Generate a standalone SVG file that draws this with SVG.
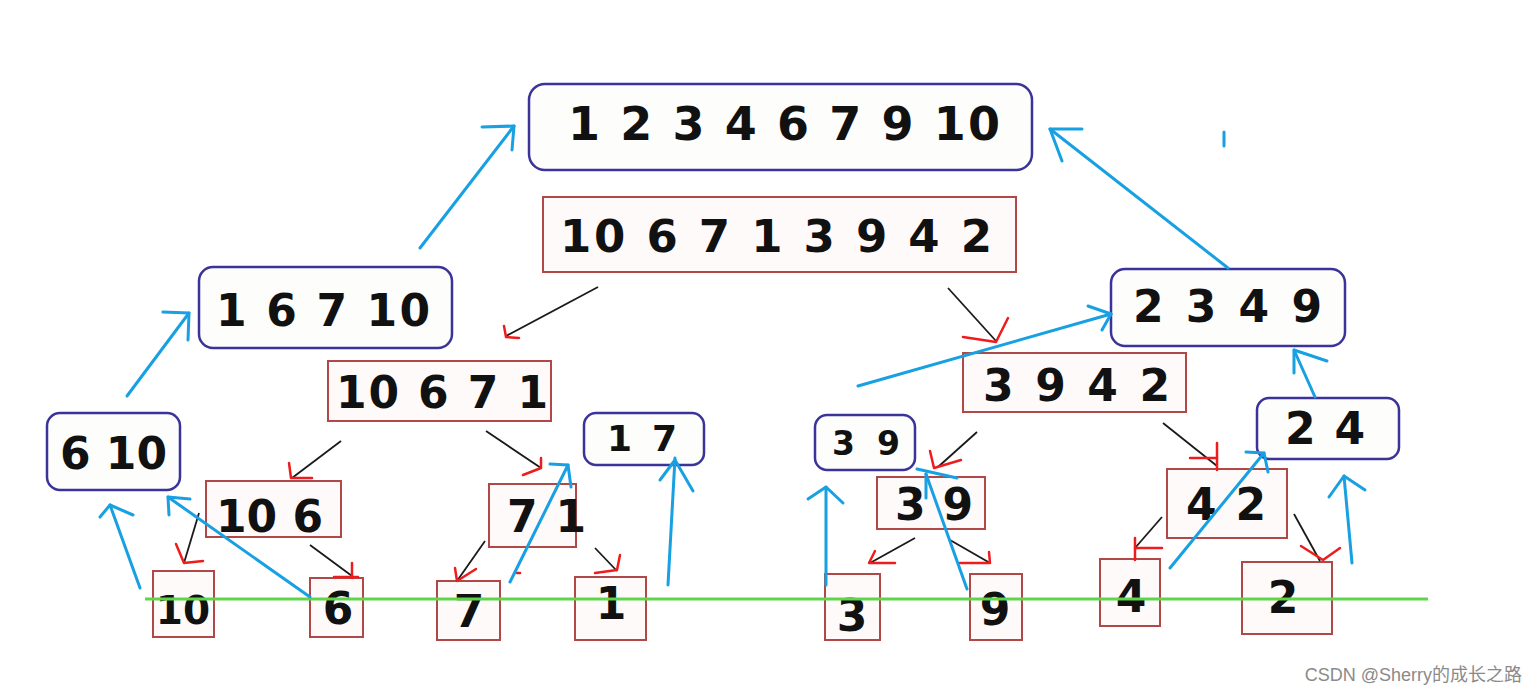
<svg xmlns="http://www.w3.org/2000/svg" width="1538" height="695" viewBox="0 0 1538 695">
<style>
.bg{fill:#ffffff}
.bb{fill:#fdfdfb;stroke:#3a3399;stroke-width:2.5}
.rb{fill:#fefafa;stroke:#b04848;stroke-width:2}
.t{font-family:"DejaVu Sans",Verdana,sans-serif;font-weight:bold;fill:#111111}
.bl{fill:none;stroke:#17a0e2;stroke-width:3;stroke-linecap:round;stroke-linejoin:round}
.k{fill:none;stroke:#1a1a1a;stroke-width:1.8}
.r{fill:none;stroke:#ee1c1c;stroke-width:2.5;stroke-linecap:round;stroke-linejoin:round}
.g{fill:none;stroke:#5ed64a;stroke-width:3}
.wm{font-family:"Liberation Sans","Noto Sans CJK SC",sans-serif;font-size:18px;fill:#8a8a8a}
</style>
<rect class="bg" x="0" y="0" width="1538" height="695"/>

<g id="n-top">
<rect class="bb" x="529" y="84" width="503" height="86" rx="16"/>
<text class="t" x="568" y="140" font-size="46" textLength="432" lengthAdjust="spacing">1 2 3 4 6 7 9 10</text>
</g>
<g id="n-root">
<rect class="rb" x="543" y="197" width="473" height="75"/>
<text class="t" x="560" y="252" font-size="45" textLength="432" lengthAdjust="spacing">10 6 7 1 3 9 4 2</text>
</g>
<g id="n-1-6-7-10">
<rect class="bb" x="199" y="267" width="253" height="81" rx="14"/>
<text class="t" x="216" y="326" font-size="44" textLength="214" lengthAdjust="spacing">1 6 7 10</text>
</g>
<g id="n-2-3-4-9">
<rect class="bb" x="1111" y="269" width="234" height="77" rx="14"/>
<text class="t" x="1133" y="322" font-size="44" textLength="189" lengthAdjust="spacing">2 3 4 9</text>
</g>
<g id="n-10-6-7-1">
<rect class="rb" x="328" y="361" width="223" height="60"/>
<text class="t" x="336" y="408" font-size="44" textLength="212" lengthAdjust="spacing">10 6 7 1</text>
</g>
<g id="n-3-9-4-2">
<rect class="rb" x="963" y="353" width="223" height="59"/>
<text class="t" x="983" y="401" font-size="44" textLength="187" lengthAdjust="spacing">3 9 4 2</text>
</g>
<g id="n-6-10">
<rect class="bb" x="47" y="413" width="133" height="77" rx="13"/>
<text class="t" x="60" y="469" font-size="44" textLength="107" lengthAdjust="spacing">6 10</text>
</g>
<g id="n-1-7">
<rect class="bb" x="584" y="413" width="120" height="52" rx="12"/>
<text class="t" x="607" y="451" font-size="36" textLength="70" lengthAdjust="spacing">1 7</text>
</g>
<g id="n-3-9-b">
<rect class="bb" x="815" y="415" width="100" height="55" rx="12"/>
<text class="t" x="832" y="455" font-size="33" textLength="68" lengthAdjust="spacing">3 9</text>
</g>
<g id="n-2-4">
<rect class="bb" x="1257" y="398" width="142" height="61" rx="12"/>
<text class="t" x="1285" y="444" font-size="44" textLength="80" lengthAdjust="spacing">2 4</text>
</g>
<g id="n-10-6">
<rect class="rb" x="206" y="481" width="135" height="56"/>
<text class="t" x="216" y="532" font-size="44" textLength="107" lengthAdjust="spacing">10 6</text>
</g>
<g id="n-7-1">
<rect class="rb" x="489" y="484" width="87" height="63"/>
<text class="t" x="507" y="532" font-size="44" textLength="79" lengthAdjust="spacing">7 1</text>
</g>
<g id="n-3-9-r">
<rect class="rb" x="877" y="477" width="108" height="52"/>
<text class="t" x="895" y="520" font-size="44" textLength="78" lengthAdjust="spacing">3 9</text>
</g>
<g id="n-4-2">
<rect class="rb" x="1167" y="469" width="120" height="69"/>
<text class="t" x="1186" y="520" font-size="44" textLength="80" lengthAdjust="spacing">4 2</text>
</g>
<g id="leaf-10">
<rect class="rb" x="153" y="571" width="61" height="66"/>
<text class="t" x="183" y="624" font-size="39" text-anchor="middle">10</text>
</g>
<g id="leaf-6">
<rect class="rb" x="310" y="578" width="53" height="59"/>
<text class="t" x="338" y="624" font-size="44" text-anchor="middle">6</text>
</g>
<g id="leaf-7">
<rect class="rb" x="437" y="581" width="63" height="59"/>
<text class="t" x="469" y="627" font-size="44" text-anchor="middle">7</text>
</g>
<g id="leaf-1">
<rect class="rb" x="575" y="577" width="71" height="63"/>
<text class="t" x="611" y="619" font-size="44" text-anchor="middle">1</text>
</g>
<g id="leaf-3">
<rect class="rb" x="825" y="574" width="55" height="66"/>
<text class="t" x="852" y="631" font-size="44" text-anchor="middle">3</text>
</g>
<g id="leaf-9">
<rect class="rb" x="970" y="574" width="52" height="66"/>
<text class="t" x="995" y="625" font-size="44" text-anchor="middle">9</text>
</g>
<g id="leaf-4">
<rect class="rb" x="1100" y="559" width="60" height="67"/>
<text class="t" x="1131" y="612" font-size="44" text-anchor="middle">4</text>
</g>
<g id="leaf-2">
<rect class="rb" x="1242" y="562" width="90" height="72"/>
<text class="t" x="1283" y="613" font-size="44" text-anchor="middle">2</text>
</g>

<g id="connectors">
<line class="g" x1="145" y1="599" x2="1428" y2="599"/>
<!-- black split lines -->
<line class="k" x1="598" y1="287" x2="506" y2="336"/>
<line class="k" x1="948" y1="288" x2="996" y2="341"/>
<line class="k" x1="341" y1="441" x2="292" y2="478"/>
<line class="k" x1="486" y1="431" x2="541" y2="468"/>
<line class="k" x1="199" y1="513" x2="184" y2="563"/>
<line class="k" x1="310" y1="545" x2="352" y2="576"/>
<line class="k" x1="485" y1="541" x2="457" y2="581"/>
<line class="k" x1="595" y1="548" x2="617" y2="571"/>
<line class="k" x1="977" y1="432" x2="938" y2="467"/>
<line class="k" x1="915" y1="538" x2="870" y2="563"/>
<line class="k" x1="950" y1="540" x2="990" y2="563"/>
<line class="k" x1="1163" y1="423" x2="1217" y2="466"/>
<line class="k" x1="1162" y1="517" x2="1135" y2="548"/>
<line class="k" x1="1294" y1="514" x2="1320" y2="561"/>
<!-- red hand-drawn arrowheads -->
<polyline class="r" points="504,326 506,337 519,338"/>
<polyline class="r" points="963,337 996,342 1008,318"/>
<polyline class="r" points="289,463 291,478 312,478"/>
<polyline class="r" points="523,475 541,468 541,458"/>
<polyline class="r" points="176,544 184,563 203,561"/>
<polyline class="r" points="334,577 358,577"/>
<polyline class="r" points="352,563 352,578"/>
<polyline class="r" points="455,568 457,581 476,569"/>
<polyline class="r" points="595,573 617,570 620,555"/>
<polyline class="r" points="930,451 934,468 961,460"/>
<polyline class="r" points="875,551 869,563 895,563"/>
<polyline class="r" points="960,563 990,563 989,552"/>
<polyline class="r" points="1190,458 1217,458"/>
<polyline class="r" points="1217,443 1217,470"/>
<polyline class="r" points="1135,538 1135,560"/>
<polyline class="r" points="1135,548 1162,548"/>
<polyline class="r" points="1301,546 1323,560 1340,548"/>
<polyline class="r" points="517,573 520,573"/>
<!-- blue merge arrows -->
<line class="bl" x1="420" y1="248" x2="514" y2="126"/>
<polyline class="bl" points="482,127 514,126 512,150"/>
<line class="bl" x1="127" y1="396" x2="189" y2="313"/>
<polyline class="bl" points="163,312 189,313 188,340"/>
<line class="bl" x1="140" y1="588" x2="110" y2="505"/>
<polyline class="bl" points="100,517 110,505 133,515"/>
<line class="bl" x1="310" y1="597" x2="168" y2="497"/>
<polyline class="bl" points="190,499 168,497 169,515"/>
<line class="bl" x1="510" y1="582" x2="568" y2="465"/>
<polyline class="bl" points="550,464 568,465 571,487"/>
<line class="bl" x1="668" y1="585" x2="675" y2="458"/>
<polyline class="bl" points="660,480 675,460 693,491"/>
<line class="bl" x1="826" y1="585" x2="826" y2="487"/>
<polyline class="bl" points="808,499 826,487 843,503"/>
<line class="bl" x1="967" y1="589" x2="926" y2="474"/>
<line class="bl" x1="926" y1="474" x2="926" y2="498"/>
<line class="bl" x1="917" y1="469" x2="957" y2="478"/>
<line class="bl" x1="858" y1="386" x2="1111" y2="314"/>
<polyline class="bl" points="1088,306 1111,314 1102,330"/>
<line class="bl" x1="1170" y1="568" x2="1264" y2="453"/>
<polyline class="bl" points="1246,452 1264,453 1268,472"/>
<line class="bl" x1="1352" y1="563" x2="1344" y2="476"/>
<polyline class="bl" points="1329,497 1344,476 1365,490"/>
<line class="bl" x1="1315" y1="397" x2="1294" y2="350"/>
<polyline class="bl" points="1294,373 1294,350 1327,361"/>
<line class="bl" x1="1228" y1="268" x2="1050" y2="129"/>
<polyline class="bl" points="1082,129 1050,129 1062,161"/>
<line class="bl" x1="1224" y1="132" x2="1224" y2="146"/>
</g>
<text class="wm" x="1522" y="681" text-anchor="end">CSDN @Sherry的成长之路</text>
</svg>
